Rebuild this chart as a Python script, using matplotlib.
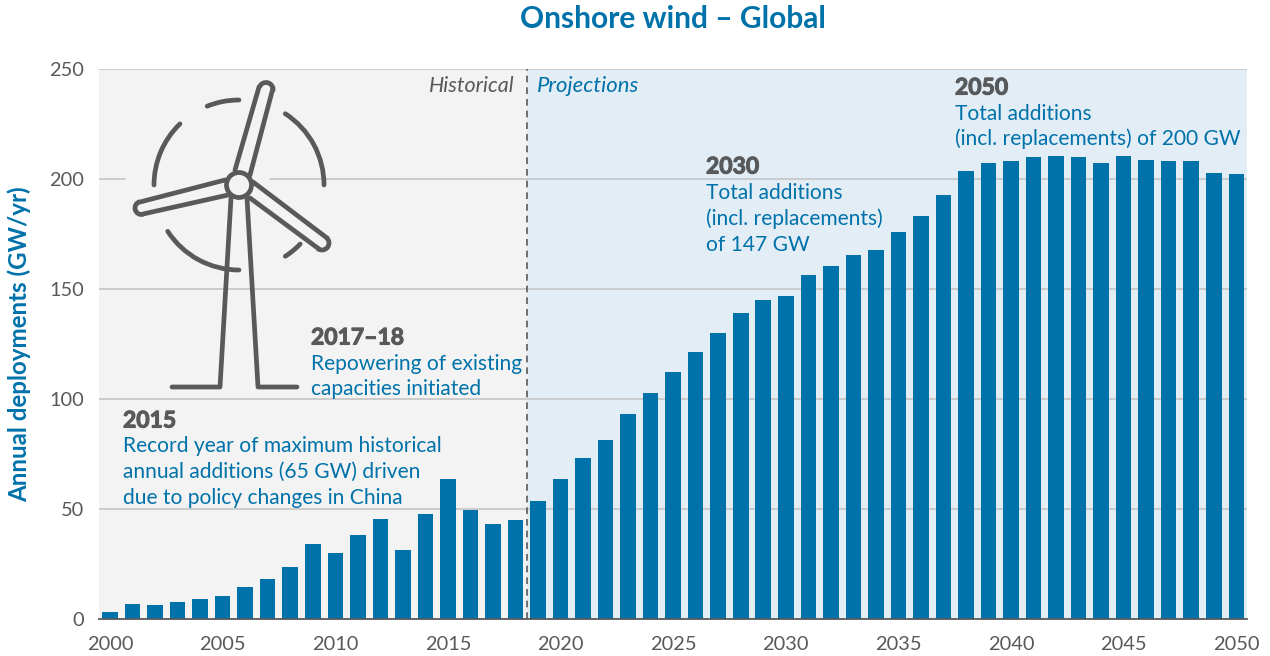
import numpy as np
import matplotlib
matplotlib.use("Agg")
import matplotlib.pyplot as plt
import matplotlib.patheffects as pe
from matplotlib.patches import Arc, Circle

plt.rcParams['font.family'] = ['Lato', 'DejaVu Sans']

years = list(range(2000, 2051))
additions = [3.2, 6.8, 6.4, 7.7, 9.1, 10.5, 14.5, 18.2, 23.6, 34.0,
             30.0, 38.2, 45.5, 31.4, 47.8, 63.7, 49.5, 43.2, 45.0, 53.6,
             63.7, 73.2, 81.4, 93.0, 102.7, 112.3, 121.4, 130.0, 139.0, 145.0,
             147.0, 156.4, 160.5, 165.5, 167.7, 176.0, 183.0, 192.7, 203.6, 207.3,
             208.2, 210.0, 210.4, 210.0, 207.3, 210.4, 208.6, 208.2, 208.2, 202.7,
             202.3]
x_ticks = list(range(2000, 2051, 5))
y_ticks = [0, 50, 100, 150, 200, 250]
split_year = 2018.5

BLUE = "#0072aa"
DARK = "#58595b"
GREY_BG = "#f3f3f3"
BLUE_BG = "#e3edf6"
GRID = "#c8c8c8"

W, H = 1270, 656
fig = plt.figure(figsize=(W / 100, H / 100), dpi=100)

# main axes sits at pixel box 99..1247 / 69..619
ax = fig.add_axes([99 / W, 1 - 619 / H, (1247 - 99) / W, (619 - 69) / H])
ax.set_xlim(1999.51, 2050.475)
ax.set_ylim(0, 250)

ax.axvspan(1999.51, split_year, color=GREY_BG, lw=0, zorder=0)
ax.axvspan(split_year, 2050.475, color=BLUE_BG, lw=0, zorder=0)
for v in y_ticks[1:]:
    ax.axhline(v, color=GRID, lw=1.3, zorder=1)
ax.bar(years, additions, width=0.69, color=BLUE, zorder=2)
ax.axvline(split_year, color=DARK, lw=1.2, dashes=(4, 3), zorder=3)

for s in ['top', 'right', 'left']:
    ax.spines[s].set_visible(False)
ax.spines['bottom'].set_color(DARK)
ax.spines['bottom'].set_linewidth(1.3)
ax.spines['bottom'].set_zorder(4)
ax.set_xticks(x_ticks)
ax.set_yticks(y_ticks)
ax.tick_params(length=0, labelsize=14.4, labelcolor=DARK)
ax.tick_params(axis='x', pad=12)
ax.tick_params(axis='y', pad=11)

# overlay in picture pixels for the icon and the notes
ov = fig.add_axes([0, 0, 1, 1], facecolor='none')
ov.set_xlim(0, W)
ov.set_ylim(H, 0)
ov.axis('off')

# gap in the 200 gridline behind the turbine
ov.plot([127, 267], [179, 179], color=GREY_BG, lw=2.5, zorder=1)


def stroke(xs, ys):
    ov.plot(xs, ys, color=DARK, lw=3.4, solid_capstyle='round', solid_joinstyle='round', zorder=3)


# rotor circle pieces
for a1, a2 in [(90, 112), (134, 180), (0, 57), (213, 270), (303, 316)]:
    # y axis is flipped, so the angles are mirrored
    ov.add_patch(Arc((239, 185), 170, 170, theta1=360 - a2, theta2=360 - a1,
                     color=DARK, lw=3.4, capstyle='round', zorder=2))

# blades
stroke([235, 259], [170, 87])
stroke([250, 273], [175, 88])
ov.add_patch(Arc((266, 89.5), 14, 14, theta1=195, theta2=375, color=DARK, lw=3.4, zorder=3))
stroke([225, 140], [180, 202])
stroke([228, 143], [195, 214])
ov.add_patch(Arc((141.5, 208), 13, 13, theta1=75, theta2=255, color=DARK, lw=3.4, zorder=3))
stroke([253, 327], [182, 238])
stroke([250, 319], [198, 249])
ov.add_patch(Arc((322, 243), 14, 14, theta1=-50, theta2=130, color=DARK, lw=3.4, zorder=3))

# tower
stroke([231, 220, 172], [198, 387, 387])
stroke([247, 258, 297], [198, 387, 387])
ov.add_patch(Circle((239, 185), 12.5, fc=GREY_BG, ec=DARK, lw=3.4, zorder=4))

# title and y label
ov.text(673, 19, "Onshore wind – Global", color=BLUE, fontsize=21.5, fontweight='bold',
        ha='center', va='center')
ov.text(19, 344, "Annual deployments (GW/yr)", color=BLUE, fontsize=17.4, fontweight='bold',
        rotation=90, ha='center', va='center')

ov.text(515, 86, "Historical", color=DARK, fontsize=15.5, style='italic', ha='right', va='center')
ov.text(537, 86, "Projections", color=BLUE, fontsize=15.9, style='italic', ha='left', va='center')


def note(x, y_head, head, lines, y_lines):
    ov.text(x, y_head, head, color=DARK, fontsize=16.5, fontweight='bold', ha='left', va='center',
            path_effects=[pe.withStroke(linewidth=0.8, foreground=DARK)])
    for line, yy in zip(lines, y_lines):
        ov.text(x, yy, line, color=BLUE, fontsize=15.1, ha='left', va='center')


note(123, 421, "2015",
     ["Record year of maximum historical", "annual additions (65 GW) driven", "due to policy changes in China"],
     [446, 472, 498])
note(311, 338, "2017–18",
     ["Repowering of existing", "capacities initiated"],
     [364, 389])
note(706, 167, "2030",
     ["Total additions", "(incl. replacements)", "of 147 GW"],
     [193, 219, 245])
note(955, 88, "2050",
     ["Total additions", "(incl. replacements) of 200 GW"],
     [114, 139])

fig.savefig("out.png", dpi=100)
